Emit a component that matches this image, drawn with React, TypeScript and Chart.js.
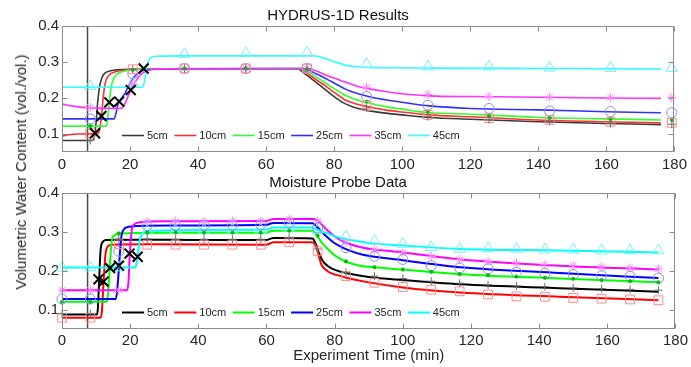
import React, { useEffect, useRef } from 'react';
import { Chart, registerables } from 'chart.js';
Chart.register(...registerables);

const FONT = '"Liberation Sans", Arial, Helvetica, sans-serif';
const TEXT = '#262626';

// ---------- labels / ticks ----------
const depths = ['5cm', '10cm', '15cm', '25cm', '35cm', '45cm'];
const xTicks = [0, 20, 40, 60, 80, 100, 120, 140, 160, 180];
const yTicks = [0.1, 0.2, 0.3, 0.4];
const wetLineT = 7.5;

// ---------- HYDRUS-1D simulated curves (top) ----------
const h5T = [0, 9.0, 9.5, 10.0, 10.5, 11.1, 11.8, 12.6, 14, 16, 20, 69.3, 71, 73, 75, 77, 79, 81, 83, 85, 87, 90, 95, 100, 108, 120, 140, 160, 176];
const h5V = [0.082, 0.082, 0.092, 0.13, 0.19, 0.235, 0.258, 0.269, 0.275, 0.278, 0.28, 0.281, 0.27, 0.256, 0.241, 0.226, 0.211, 0.197, 0.185, 0.177, 0.171, 0.165, 0.158, 0.153, 0.146, 0.141, 0.134, 0.129, 0.126];
const h10T = [0, 2, 5, 10.5, 11.1, 11.6, 12.1, 12.6, 13.2, 14, 15.5, 18, 25, 69.8, 71.5, 73.5, 75.5, 77.5, 79.5, 81.5, 83, 85, 87, 90, 95, 100, 108, 120, 140, 160, 176];
const h10V = [0.094, 0.098, 0.1, 0.101, 0.115, 0.15, 0.2, 0.237, 0.255, 0.265, 0.272, 0.277, 0.28, 0.281, 0.272, 0.259, 0.246, 0.233, 0.219, 0.206, 0.196, 0.188, 0.182, 0.176, 0.167, 0.161, 0.153, 0.148, 0.139, 0.134, 0.131];
const h15T = [0, 13.0, 13.4, 13.9, 14.4, 15.0, 15.8, 17, 19, 25, 70.3, 72, 74, 76, 78, 80, 82, 84, 86, 88, 90, 95, 100, 108, 120, 140, 160, 176];
const h15V = [0.122, 0.122, 0.14, 0.188, 0.228, 0.25, 0.263, 0.271, 0.276, 0.28, 0.281, 0.274, 0.263, 0.251, 0.238, 0.226, 0.214, 0.204, 0.197, 0.191, 0.186, 0.176, 0.169, 0.159, 0.155, 0.146, 0.142, 0.139];
const h25T = [0, 15.3, 15.8, 16.3, 16.8, 17.5, 18.5, 19.9, 21.4, 23.4, 26, 30, 70.8, 72.5, 74.5, 76.5, 78.5, 80.5, 83, 85, 87, 90, 95, 100, 108, 120, 140, 160, 176];
const h25V = [0.142, 0.142, 0.155, 0.178, 0.19, 0.2, 0.213, 0.24, 0.261, 0.275, 0.279, 0.281, 0.282, 0.277, 0.268, 0.259, 0.249, 0.239, 0.226, 0.218, 0.212, 0.204, 0.195, 0.188, 0.178, 0.171, 0.167, 0.162, 0.159];
const h35T = [0, 3, 6, 10, 17, 18, 19, 20.2, 21.5, 23, 25, 28, 71.8, 73.5, 75.5, 77.5, 79.5, 81.5, 83, 85, 87, 90, 95, 100, 108, 120, 140, 160, 176];
const h35V = [0.183, 0.178, 0.174, 0.172, 0.171, 0.176, 0.195, 0.222, 0.245, 0.264, 0.276, 0.281, 0.282, 0.279, 0.272, 0.264, 0.257, 0.25, 0.245, 0.238, 0.232, 0.226, 0.218, 0.212, 0.206, 0.204, 0.202, 0.2, 0.199];
const h45T = [0, 23.6, 24.2, 24.8, 25.4, 26.2, 28, 35, 74, 76, 78, 80, 82, 84, 87, 90, 95, 110, 140, 176];
const h45V = [0.23, 0.23, 0.245, 0.28, 0.302, 0.312, 0.316, 0.317, 0.317, 0.314, 0.308, 0.301, 0.295, 0.29, 0.287, 0.285, 0.284, 0.283, 0.282, 0.281];

// HYDRUS markers (top)
const hMarkT = [8.3, 20.8, 36, 54, 72, 89.5, 107.5, 125.5, 143.3, 161.2, 179.2];
const h5M = [0.082, 0.28, 0.282, 0.282, 0.282, 0.172, 0.148, 0.14, 0.135, 0.13, 0.127];
const h10M = [0.102, 0.28, 0.282, 0.282, 0.282, 0.178, 0.153, 0.144, 0.139, 0.134, 0.131];
const h15M = [0.122, 0.278, 0.282, 0.282, 0.28, 0.19, 0.162, 0.15, 0.145, 0.141, 0.139];
const h25M = [0.142, 0.267, 0.282, 0.282, 0.282, 0.204, 0.18, 0.171, 0.164, 0.162, 0.159];
const h35M = [0.174, 0.238, 0.282, 0.282, 0.282, 0.23, 0.21, 0.204, 0.202, 0.201, 0.201];
const h45M = [0.233, 0.24, 0.322, 0.324, 0.326, 0.294, 0.287, 0.287, 0.284, 0.283, 0.283];

// wetting-front arrival (top)
const hArrT = [9.7, 11.6, 13.9, 16.8, 20.2, 24.0];
const hArrV = [0.102, 0.15, 0.188, 0.19, 0.222, 0.282];

// ---------- Moisture probe curves (bottom) ----------
const p5T = [0, 10.2, 10.5, 10.9, 11.3, 11.8, 13, 20, 40, 60, 61, 62, 73.5, 74.3, 75.2, 76.6, 78, 79.5, 82, 84.4, 90, 100, 117, 146, 175];
const p5V = [0.087, 0.087, 0.1, 0.178, 0.25, 0.272, 0.279, 0.28, 0.279, 0.279, 0.282, 0.284, 0.283, 0.272, 0.25, 0.224, 0.212, 0.204, 0.197, 0.192, 0.184, 0.176, 0.165, 0.155, 0.146];
const p10T = [0, 11.3, 11.7, 12.2, 12.7, 13.3, 14.5, 25, 60, 61, 62, 73.5, 74.3, 75, 76.1, 77.5, 78.6, 81, 83.4, 90, 100, 117, 146, 175];
const p10V = [0.079, 0.079, 0.095, 0.17, 0.238, 0.261, 0.267, 0.268, 0.267, 0.27, 0.273, 0.273, 0.266, 0.25, 0.216, 0.202, 0.195, 0.188, 0.182, 0.17, 0.157, 0.144, 0.133, 0.124];
const p15T = [0, 13.0, 13.5, 14.0, 14.5, 15.2, 17, 30, 60, 61, 62, 73.5, 74.5, 76, 77.6, 79.5, 81.5, 84, 87.4, 90, 100, 117, 146, 175];
const p15V = [0.12, 0.12, 0.14, 0.205, 0.27, 0.29, 0.296, 0.298, 0.298, 0.301, 0.303, 0.303, 0.295, 0.275, 0.259, 0.243, 0.231, 0.221, 0.213, 0.21, 0.203, 0.191, 0.18, 0.17];
const p25T = [0, 15.8, 16.3, 16.8, 17.3, 18, 19.5, 25, 60, 61, 62, 73.5, 75, 76.3, 77.6, 79.5, 81.5, 84, 88.3, 100, 117, 146, 175];
const p25V = [0.127, 0.127, 0.16, 0.22, 0.28, 0.305, 0.313, 0.316, 0.318, 0.321, 0.323, 0.322, 0.311, 0.299, 0.288, 0.274, 0.263, 0.253, 0.241, 0.227, 0.209, 0.194, 0.181];
const p35T = [0, 19.0, 19.5, 19.9, 20.4, 21, 23, 30, 60, 61, 62, 74, 75.2, 76.4, 77.6, 79.5, 81.5, 84, 88.3, 100, 117, 146, 175];
const p35V = [0.15, 0.15, 0.17, 0.244, 0.3, 0.318, 0.325, 0.327, 0.328, 0.331, 0.333, 0.333, 0.327, 0.317, 0.306, 0.292, 0.28, 0.27, 0.259, 0.247, 0.229, 0.213, 0.203];
const p45T = [0, 21.5, 22, 22.5, 23, 24, 26, 40, 60, 61, 62, 73, 75, 77.6, 80, 82.5, 86, 90.3, 100, 117, 146, 175];
const p45V = [0.208, 0.208, 0.225, 0.26, 0.285, 0.298, 0.303, 0.305, 0.306, 0.309, 0.311, 0.311, 0.305, 0.297, 0.289, 0.283, 0.277, 0.271, 0.265, 0.256, 0.252, 0.247];

// probe markers (bottom)
const pMarkT = [0, 8.33, 16.67, 25, 33.33, 41.67, 50, 58.33, 66.67, 75, 83.33, 91.67, 100, 108.33, 116.67, 125, 133.33, 141.67, 150, 158.33, 166.67, 175];
const p5M = [0.089, 0.089, 0.282, 0.282, 0.281, 0.281, 0.281, 0.281, 0.286, 0.256, 0.196, 0.186, 0.18, 0.173, 0.168, 0.164, 0.161, 0.159, 0.156, 0.154, 0.152, 0.15];
const p10M = [0.079, 0.079, 0.268, 0.267, 0.267, 0.267, 0.267, 0.267, 0.273, 0.25, 0.186, 0.169, 0.158, 0.151, 0.147, 0.139, 0.134, 0.133, 0.13, 0.128, 0.126, 0.124];
const p15M = [0.12, 0.12, 0.296, 0.298, 0.298, 0.298, 0.298, 0.298, 0.303, 0.29, 0.224, 0.209, 0.203, 0.197, 0.191, 0.188, 0.185, 0.182, 0.179, 0.176, 0.173, 0.17];
const p25M = [0.127, 0.127, 0.25, 0.316, 0.316, 0.317, 0.317, 0.318, 0.323, 0.31, 0.259, 0.237, 0.229, 0.213, 0.207, 0.205, 0.196, 0.193, 0.19, 0.187, 0.186, 0.181];
const p35M = [0.15, 0.15, 0.15, 0.326, 0.327, 0.327, 0.328, 0.328, 0.333, 0.328, 0.273, 0.254, 0.246, 0.237, 0.229, 0.224, 0.22, 0.216, 0.213, 0.21, 0.207, 0.205];
const p45M = [0.208, 0.208, 0.208, 0.303, 0.305, 0.305, 0.306, 0.306, 0.311, 0.305, 0.288, 0.276, 0.269, 0.26, 0.256, 0.257, 0.256, 0.254, 0.254, 0.252, 0.252, 0.252];

// wetting-front arrival (bottom)
const pArrT = [10.7, 12.2, 14.1, 16.7, 19.8, 22.2];
const pArrV = [0.178, 0.172, 0.207, 0.213, 0.244, 0.236];

// ---------- styles ----------
const topColors = ['#3a3a3a', '#ff3030', '#30ff30', '#3030ff', '#ff30ff', '#30ffff'];
const botColors = ['#000000', '#ff0000', '#00ff00', '#0000ff', '#ff00ff', '#00ffff'];
const markColors = ['#707070', '#ff8a8a', '#00c000', '#8a8aff', '#ff80ff', '#70f0ff'];
const markStyles = ['cross', 'rect', 'circle', 'circle', 'star', 'triangle'];
const markRadius = [4, 6.2, 1.6, 5, 4.5, 6.5];

const zip = (t: number[], v: number[]) => t.map((x, i) => ({ x, y: v[i] }));

const boxPlugin = {
  id: 'matlabBox',
  afterDatasetsDraw(chart: any) {
    const { ctx, chartArea: a, scales } = chart;
    ctx.save();
    ctx.strokeStyle = '#8c8c8c';
    ctx.lineWidth = 1;
    const L = Math.round(a.left) + 0.5, R = Math.round(a.right) - 0.5;
    const T = Math.round(a.top) + 0.5, B = Math.round(a.bottom) - 0.5;
    ctx.strokeRect(L, T, R - L, B - T);
    const len = 5;
    ctx.beginPath();
    for (const t of scales.x.ticks) {
      const px = Math.round(scales.x.getPixelForValue(t.value)) + 0.5;
      ctx.moveTo(px, B); ctx.lineTo(px, B - len);
      ctx.moveTo(px, T); ctx.lineTo(px, T + len);
    }
    for (const t of scales.y.ticks) {
      const py = Math.round(scales.y.getPixelForValue(t.value)) + 0.5;
      ctx.moveTo(L, py); ctx.lineTo(L + len, py);
      ctx.moveTo(R, py); ctx.lineTo(R - len, py);
    }
    ctx.stroke();
    ctx.restore();
  },
};

const legendPlugin = {
  id: 'inlineLegend',
  afterDraw(chart: any, _args: any, opts: any) {
    const { ctx, chartArea: a } = chart;
    ctx.save();
    ctx.font = `11px ${FONT}`;
    ctx.textBaseline = 'middle';
    ctx.textAlign = 'left';
    let x = a.left + 60;
    const y = a.bottom - 16.5;
    depths.forEach((lab, i) => {
      ctx.strokeStyle = opts.colors[i];
      ctx.lineWidth = opts.lineWidth;
      ctx.beginPath();
      ctx.moveTo(x, y);
      ctx.lineTo(x + 22, y);
      ctx.stroke();
      x += 25;
      ctx.fillStyle = TEXT;
      ctx.fillText(lab, x, y);
      x += ctx.measureText(lab).width + 6.5;
    });
    ctx.restore();
  },
};

function buildConfig(p: {
  title: string;
  titlePad: { top: number; bottom: number };
  lines: { t: number[]; v: number[] }[];
  colors: string[];
  lineWidth: number;
  markT: number[];
  marks: number[][];
  arrT: number[];
  arrV: number[];
  xTitle: string | null;
  xHeight: number;
  xTickPad: number;
}): any {
  const datasets: any[] = [];
  datasets.push({
    data: zip(p.arrT, p.arrV),
    showLine: false,
    pointStyle: 'crossRot',
    pointRadius: 7,
    pointBorderWidth: 2,
    pointBorderColor: '#000',
    pointBackgroundColor: '#000',
    clip: false,
    order: 1,
  });
  p.marks.forEach((m, i) => {
    datasets.push({
      data: zip(p.markT, m),
      showLine: false,
      pointStyle: markStyles[i],
      pointRadius: markRadius[i],
      pointBorderWidth: 1,
      pointBorderColor: markColors[i],
      pointBackgroundColor: markStyles[i] === 'circle' && markRadius[i] < 2 ? markColors[i] : 'rgba(0,0,0,0)',
      clip: false,
      order: 2,
    });
  });
  p.lines.forEach((l, i) => {
    datasets.push({
      label: depths[i],
      data: zip(l.t, l.v),
      showLine: true,
      borderColor: p.colors[i],
      borderWidth: p.lineWidth,
      pointRadius: 0,
      cubicInterpolationMode: 'monotone',
      fill: false,
      order: 3 + (5 - i) * 0.01,
    });
  });
  datasets.push({
    data: [{ x: wetLineT, y: 0.05 }, { x: wetLineT, y: 0.4 }],
    showLine: true,
    borderColor: '#4a4a4a',
    borderWidth: 1.5,
    pointRadius: 0,
    order: 4,
  });

  return {
    type: 'scatter',
    data: { datasets },
    options: {
      responsive: false,
      animation: false,
      events: [],
      layout: { padding: { left: 0, right: 15, top: 0, bottom: 0 } },
      plugins: {
        legend: { display: false },
        tooltip: { enabled: false },
        title: {
          display: true,
          text: p.title,
          color: '#111',
          font: { family: FONT, size: 15, weight: 'normal' },
          padding: p.titlePad,
        },
        inlineLegend: { colors: p.colors, lineWidth: p.lineWidth },
      },
      scales: {
        x: {
          type: 'linear',
          min: 0,
          max: 180,
          afterBuildTicks: (ax: any) => { ax.ticks = xTicks.map((v) => ({ value: v })); },
          afterFit: (ax: any) => { ax.height = p.xHeight; },
          grid: { display: false, drawTicks: false },
          border: { display: false },
          ticks: {
            autoSkip: false,
            maxRotation: 0,
            padding: p.xTickPad,
            color: TEXT,
            font: { family: FONT, size: 15 },
            callback: (v: any) => String(v),
          },
          title: p.xTitle
            ? { display: true, text: p.xTitle, color: TEXT, font: { family: FONT, size: 15 }, padding: { top: 0, bottom: 2 } }
            : { display: false },
        },
        y: {
          type: 'linear',
          min: 0.05,
          max: 0.4,
          afterBuildTicks: (ax: any) => { ax.ticks = yTicks.map((v) => ({ value: v })); },
          afterFit: (ax: any) => { ax.width = 62; },
          grid: { display: false, drawTicks: false },
          border: { display: false },
          ticks: {
            padding: 3,
            color: TEXT,
            font: { family: FONT, size: 15 },
            callback: (v: any) => Number(v).toFixed(1),
          },
        },
      },
    },
    plugins: [boxPlugin, legendPlugin],
  };
}

export default function App() {
  const topRef = useRef<HTMLCanvasElement>(null);
  const botRef = useRef<HTMLCanvasElement>(null);

  useEffect(() => {
    const c1 = new Chart(topRef.current as HTMLCanvasElement, buildConfig({
      title: 'HYDRUS-1D Results',
      titlePad: { top: 7, bottom: 1 },
      lines: [
        { t: h5T, v: h5V }, { t: h10T, v: h10V }, { t: h15T, v: h15V },
        { t: h25T, v: h25V }, { t: h35T, v: h35V }, { t: h45T, v: h45V },
      ],
      colors: topColors,
      lineWidth: 1.6,
      markT: hMarkT,
      marks: [h5M, h10M, h15M, h25M, h35M, h45M],
      arrT: hArrT,
      arrV: hArrV,
      xTitle: null,
      xHeight: 23,
      xTickPad: 4,
    }));
    const c2 = new Chart(botRef.current as HTMLCanvasElement, buildConfig({
      title: 'Moisture Probe Data',
      titlePad: { top: 4, bottom: 1 },
      lines: [
        { t: p5T, v: p5V }, { t: p10T, v: p10V }, { t: p15T, v: p15V },
        { t: p25T, v: p25V }, { t: p35T, v: p35V }, { t: p45T, v: p45V },
      ],
      colors: botColors,
      lineWidth: 2,
      markT: pMarkT,
      marks: [p5M, p10M, p15M, p25M, p35M, p45M],
      arrT: pArrT,
      arrV: pArrV,
      xTitle: 'Experiment Time (min)',
      xHeight: 38,
      xTickPad: 3,
    }));
    return () => { c1.destroy(); c2.destroy(); };
  }, []);

  return (
    <div style={{ position: 'absolute', left: 0, top: 0, width: 691, height: 367, background: '#fff', overflow: 'hidden' }}>
      <canvas ref={topRef} width={691} height={175} style={{ position: 'absolute', left: 0, top: 0 }} />
      <canvas ref={botRef} width={691} height={197} style={{ position: 'absolute', left: 0, top: 170 }} />
      <div
        style={{
          position: 'absolute',
          left: 21,
          top: 172,
          transform: 'translate(-50%, -50%) rotate(-90deg)',
          whiteSpace: 'nowrap',
          fontFamily: FONT,
          fontSize: 15,
          lineHeight: '18px',
          color: TEXT,
        }}
      >
        Volumetric Water Content (vol./vol.)
      </div>
    </div>
  );
}
